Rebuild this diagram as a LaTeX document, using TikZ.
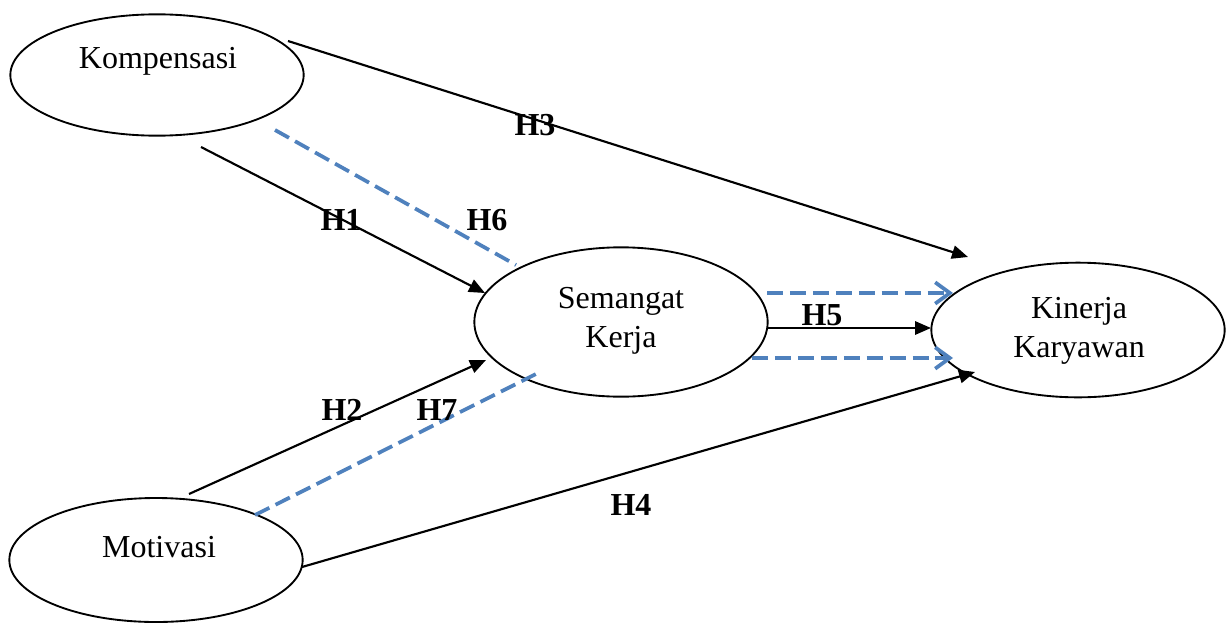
\documentclass[tikz,border=0pt]{standalone}
\usepackage{fontspec}
\setmainfont{Liberation Serif}
\usetikzlibrary{shapes.geometric,arrows.meta}
\definecolor{linkblue}{RGB}{79,129,189}
\begin{document}
\begin{tikzpicture}[x=0.375pt,y=-0.375pt,
  construct/.style={draw, ellipse, line width=0.7pt, inner sep=0pt},
  caption/.style={font=\fontsize{12}{14.6}\selectfont, align=center, inner sep=0pt},
  hyp/.style={font=\fontsize{12}{14}\selectfont\bfseries, inner sep=0pt},
  direct/.style={line width=0.8pt, -{Triangle[length=6pt,width=5pt]}},
  mediated/.style={draw=linkblue, line width=1.4pt, dash pattern=on 6pt off 2.6pt},
  mediatedarrow/.style={mediated, -{Straight Barb[length=5.5pt,width=8pt,line width=1.4pt]}}]
\useasboundingbox (0,0) rectangle (1232,631);

% constructs
\node[construct, minimum width=110pt, minimum height=45.5pt] (komp) at (157,75) {};
\node[construct, minimum width=110pt, minimum height=56pt] (sem) at (621,322) {};
\node[construct, minimum width=110pt, minimum height=50.5pt] (kin) at (1078,330) {};
\node[construct, minimum width=110pt, minimum height=46.5pt] (mot) at (156,560) {};

\node[caption] (kompT) at (158,61) {Kompensasi};
\node[caption] (semT) at (621,321) {Semangat\\Kerja};
\node[caption] (kinT) at (1079,331) {Kinerja\\Karyawan};
\node[caption] (motT) at (159,547) {Motivasi};

% connector end points
\coordinate (h3a) at (288,41);   \coordinate (h3b) at (968,257);
\coordinate (h1a) at (201,147);  \coordinate (h1b) at (485,293);
\coordinate (h6a) at (275,130);  \coordinate (h6b) at (516,265);
\coordinate (h2a) at (189,494);  \coordinate (h2b) at (486,360);
\coordinate (h7a) at (255,515);  \coordinate (h7b) at (536,374);
\coordinate (h4a) at (302,567);  \coordinate (h4b) at (975,372);
\coordinate (h5a) at (767,328);  \coordinate (h5b) at (931,328);
\coordinate (upA) at (767,293);  \coordinate (upB) at (953,293);
\coordinate (loA) at (752,358);  \coordinate (loB) at (953,358);

% direct paths
\draw[direct] (h3a) -- (h3b);
\draw[direct] (h1a) -- (h1b);
\draw[direct] (h2a) -- (h2b);
\draw[direct] (h4a) -- (h4b);
\draw[direct] (h5a) -- (h5b);

% mediated paths
\draw[mediated] (h6a) -- (h6b);
\draw[mediated] (h7a) -- (h7b);
\draw[mediatedarrow] (upA) -- (upB);
\draw[mediatedarrow] (loA) -- (loB);

% hypothesis labels
\node[hyp] (H3) at (535,125) {H3};
\node[hyp] (H1) at (341,220) {H1};
\node[hyp] (H6) at (487,220) {H6};
\node[hyp] (H5) at (822,315) {H5};
\node[hyp] (H2) at (342,410) {H2};
\node[hyp] (H7) at (437,410) {H7};
\node[hyp] (H4) at (631,505) {H4};
\end{tikzpicture}
\end{document}
